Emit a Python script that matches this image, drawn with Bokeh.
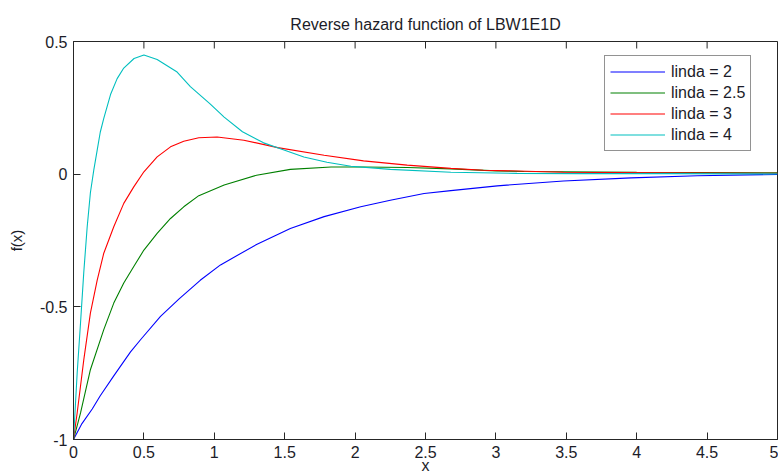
import math
from bokeh.plotting import figure
from bokeh.models import Legend, LegendItem, FixedTicker, NumeralTickFormatter, Range1d
from bokeh.embed import file_html
from bokeh.resources import INLINE

# linda = 2
x_l2 = [0, 0.06, 0.133, 0.19, 0.286, 0.405, 0.476, 0.618, 0.75, 0.90, 1.044, 1.30, 1.54, 1.78,
        2.04, 2.25, 2.49, 2.68, 3.01, 3.48, 3.96, 4.43, 5.0]
y_l2 = [-1, -0.94, -0.885, -0.835, -0.76, -0.67, -0.624, -0.536, -0.47, -0.40, -0.342, -0.265, -0.205, -0.16,
        -0.123, -0.098, -0.073, -0.062, -0.044, -0.026, -0.014, -0.006, -0.001]
# linda = 2.5
x_l25 = [0, 0.05, 0.12, 0.215, 0.286, 0.357, 0.428, 0.5, 0.594, 0.689, 0.783, 0.89, 1.07, 1.30,
         1.54, 1.83, 2.06, 2.37, 2.68, 3.0, 3.2, 4.0, 5.0]
y_l25 = [-1, -0.90, -0.737, -0.586, -0.486, -0.41, -0.348, -0.286, -0.223, -0.167, -0.123, -0.081, -0.041, -0.004,
         0.018, 0.027, 0.027, 0.025, 0.020, 0.0125, 0.010, 0.007, 0.005]
# linda = 3
x_l3 = [0, 0.026, 0.073, 0.12, 0.168, 0.215, 0.286, 0.357, 0.428, 0.5, 0.594, 0.689, 0.783, 0.89,
        1.02, 1.21, 1.45, 1.78, 2.06, 2.37, 2.68, 2.91, 3.48, 4.19, 5.0]
y_l3 = [-1, -0.90, -0.70, -0.524, -0.40, -0.298, -0.198, -0.11, -0.048, 0.009, 0.065, 0.103, 0.124, 0.137,
        0.140, 0.128, 0.100, 0.071, 0.050, 0.034, 0.022, 0.015, 0.0075, 0.005, 0.003]
# linda = 4
x_l4 = [0, 0.026, 0.05, 0.073, 0.097, 0.12, 0.144, 0.168, 0.19, 0.215, 0.263, 0.31, 0.357, 0.43, 0.5,
        0.594, 0.736, 0.83, 0.97, 1.07, 1.2, 1.35, 1.5, 1.636, 1.8, 1.97, 2.25, 2.68, 3.15, 3.6, 4.2, 5.0]
y_l4 = [-1, -0.75, -0.56, -0.37, -0.20, -0.07, 0.015, 0.09, 0.158, 0.21, 0.30, 0.36, 0.40, 0.436, 0.449,
        0.432, 0.385, 0.33, 0.265, 0.215, 0.16, 0.118, 0.09, 0.065, 0.045, 0.030, 0.018, 0.007, 0.003, 0.002, 0.002, 0.001]

labels = ["linda = 2", "linda = 2.5", "linda = 3", "linda = 4"]
colors = ["#0000ff", "#008000", "#ff0000", "#00bfbf"]
x_ticks = [0, 0.5, 1, 1.5, 2, 2.5, 3, 3.5, 4, 4.5, 5]
y_ticks = [-1, -0.5, 0, 0.5]

FONT = "Liberation Sans"
TXT = "#1c1c28"
AX = "#262626"

p = figure(width=778, height=476, x_range=Range1d(0, 5), y_range=Range1d(-1, 0.5),
           output_backend="svg", toolbar_location=None,
           min_border_left=73, min_border_right=1, min_border_top=41, min_border_bottom=0)
p.background_fill_color = "white"
p.border_fill_color = "white"
p.outline_line_color = AX
p.outline_line_width = 1
p.xgrid.visible = False
p.ygrid.visible = False

p.title.text = "Reverse hazard function of LBW1E1D"
p.title.align = "center"
p.title.text_font = FONT
p.title.text_font_size = "16px"
p.title.text_font_style = "normal"
p.title.text_color = TXT
p.title.standoff = 17

def style_axis(ax, ticks):
    ax.ticker = FixedTicker(ticks=ticks)
    ax.formatter = NumeralTickFormatter(format="0.[0]")
    ax.major_tick_in = 7
    ax.major_tick_out = 0
    ax.minor_tick_in = 0
    ax.minor_tick_out = 0
    ax.axis_line_color = AX
    ax.major_tick_line_color = AX
    ax.major_label_text_font = FONT
    ax.major_label_text_font_size = "16px"
    ax.major_label_text_color = TXT
    ax.axis_label_text_font = FONT
    ax.axis_label_text_font_style = "normal"
    ax.axis_label_text_color = TXT

style_axis(p.xaxis[0], x_ticks)
style_axis(p.yaxis[0], y_ticks)
p.xaxis[0].axis_label = "x"
p.xaxis[0].axis_label_text_font_size = "16px"
p.xaxis[0].major_label_standoff = 6
p.xaxis[0].axis_label_standoff = -4
p.yaxis[0].axis_label = "f(x)"
p.yaxis[0].axis_label_text_font_size = "15px"
p.yaxis[0].major_label_standoff = 6
p.yaxis[0].axis_label_standoff = 12

# inward tick marks along the top edge of the box (clipped to the frame)
p.scatter(x=x_ticks, y=[y_ticks[-1]] * len(x_ticks), marker="dash", angle=math.pi / 2,
          size=14, line_color=AX, line_width=1)

xs = [x_l2, x_l25, x_l3, x_l4]
ys = [y_l2, y_l25, y_l3, y_l4]
items = []
for xv, yv, c, lab in zip(xs, ys, colors, labels):
    r = p.line(xv, yv, line_color=c, line_width=1.1)
    items.append(LegendItem(label=lab, renderers=[r]))

legend = Legend(items=items, location=(531, 288))
legend.label_text_font = FONT
legend.label_text_font_size = "16px"
legend.label_text_color = TXT
legend.glyph_width = 55
legend.glyph_height = 21
legend.label_height = 21
legend.spacing = 0
legend.padding = 5
legend.label_standoff = 6
legend.border_line_color = AX
legend.border_line_width = 1
legend.background_fill_color = "white"
legend.background_fill_alpha = 1
p.add_layout(legend)

open("out.html", "w").write(file_html(p, INLINE))
